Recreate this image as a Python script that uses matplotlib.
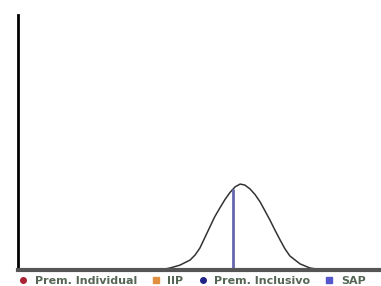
import numpy as np
import matplotlib
matplotlib.use('Agg')
import matplotlib.pyplot as plt
from matplotlib.lines import Line2D

# curve (x position, height)
curve_x = [39.1, 41.9, 44.6, 47.4, 48.8, 50.1, 51.5, 52.9, 54.2, 55.6, 57.0, 58.4, 59.8,
           61.2, 62.5, 63.9, 65.3, 66.7, 68.0, 69.4, 70.8, 72.2, 73.5, 74.9, 77.7, 80.4, 83.7]
curve_y = [0.0, 0.8, 1.9, 3.9, 5.9, 8.6, 12.8, 17.0, 20.9, 24.3, 27.6, 30.4, 32.6,
           33.7, 33.3, 31.8, 29.6, 26.7, 23.3, 19.6, 15.6, 11.8, 8.4, 5.5, 2.4, 0.8, 0.0]
mark_x = 59.2
mark_y = 31.6

legend_labels = ['Prem. Individual', 'IIP', 'Prem. Inclusivo', 'SAP']
legend_colors = ['#aa2233', '#e09040', '#222288', '#5555cc']
legend_markers = ['o', 's', 'o', 's']

fig = plt.figure(figsize=(3.81, 2.86), dpi=100)
ax = fig.add_axes([18/381, 16/286, 363/381, 255/286])

ax.plot(curve_x, curve_y, color='#333333', lw=1.1)
ax.vlines(mark_x, 0, mark_y, color='#6666b0', lw=2)

ax.set_xlim(0, 100)
ax.set_ylim(0, 100)
ax.set_xticks([])
ax.set_yticks([])
for s in ['top', 'right']:
    ax.spines[s].set_visible(False)
ax.spines['left'].set_color('black')
ax.spines['left'].set_linewidth(2)
ax.spines['bottom'].set_color('#555555')
ax.spines['bottom'].set_linewidth(3)

handles = [Line2D([], [], color=c, marker=m, ls='none', markersize=4)
           for c, m in zip(legend_colors, legend_markers)]
fig.legend(handles, legend_labels, loc='center left', bbox_to_anchor=(0.005, 0.018),
           ncol=4, frameon=False, handletextpad=0.05, columnspacing=0.7,
           labelcolor='#556655', prop={'weight': 'bold', 'size': 8})

fig.savefig('out.png', dpi=100)
